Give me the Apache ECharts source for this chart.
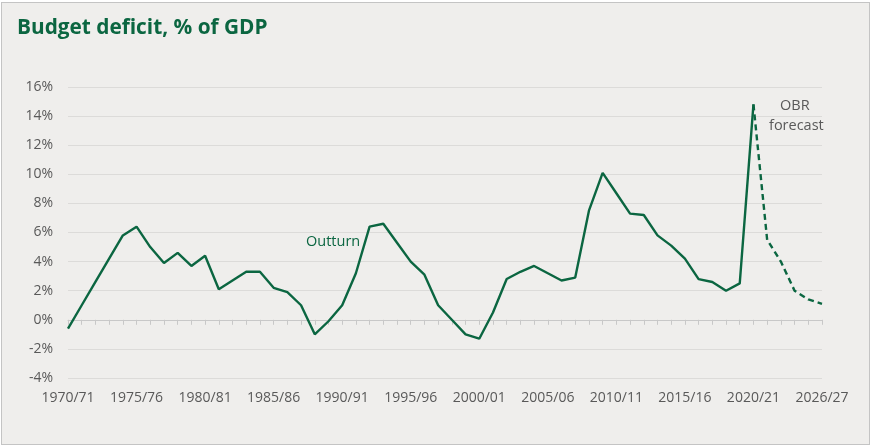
<!DOCTYPE html>
<html>
<head>
<meta charset="utf-8">
<script src="https://cdn.jsdelivr.net/npm/echarts@6/dist/echarts.min.js"></script>
<style>
  html, body { margin: 0; padding: 0; background: #ffffff; }
  #frame {
    position: absolute; left: 1px; top: 2px; width: 867px; height: 441px;
    background: #efeeec; border: 1px solid #c4c4c4;
  }
  #main { position: absolute; left: 0; top: 0; width: 872px; height: 448px; }
</style>
</head>
<body>
<div id="frame"></div>
<div id="main"></div>
<script>
// financial years on the category axis
const years = [
  '1970/71', '1971/72', '1972/73', '1973/74', '1974/75', '1975/76', '1976/77', '1977/78',
  '1978/79', '1979/80', '1980/81', '1981/82', '1982/83', '1983/84', '1984/85', '1985/86',
  '1986/87', '1987/88', '1988/89', '1989/90', '1990/91', '1991/92', '1992/93', '1993/94',
  '1994/95', '1995/96', '1996/97', '1997/98', '1998/99', '1999/00', '2000/01', '2001/02',
  '2002/03', '2003/04', '2004/05', '2005/06', '2006/07', '2007/08', '2008/09', '2009/10',
  '2010/11', '2011/12', '2012/13', '2013/14', '2014/15', '2015/16', '2016/17', '2017/18',
  '2018/19', '2019/20', '2020/21', '2021/22', '2022/23', '2023/24', '2024/25', '2026/27'
];

// deficit, % of GDP (outturn up to 2020/21)
const outturn = [
  -0.6, 1.0, 2.6, 4.2, 5.8, 6.4, 5.0, 3.9, 4.6, 3.7,
  4.4, 2.1, 2.7, 3.3, 3.3, 2.2, 1.9, 1.0, -1.0, -0.1,
  1.0, 3.2, 6.4, 6.6, 5.3, 4.0, 3.1, 1.0, 0.0, -1.0,
  -1.3, 0.5, 2.8, 3.3, 3.7, 3.2, 2.7, 2.9, 7.5, 10.1,
  8.7, 7.3, 7.2, 5.8, 5.1, 4.2, 2.8, 2.6, 2.0, 2.5,
  14.8
];

// OBR forecast, starting from the last outturn year
const forecast = [14.8, 5.5, 4.0, 2.0, 1.4, 1.1];

const yTicks = [-4, 16, 2]; // min, max, step

const green = '#0b6641';
const grey = '#595959';

const outturnData = years.map((y, i) => (i < outturn.length ? outturn[i] : null));
const forecastData = years.map((y, i) => {
  const k = i - (outturn.length - 1);
  return k >= 0 && k < forecast.length ? forecast[k] : null;
});

const chart = echarts.init(document.getElementById('main'));

const option = {
  backgroundColor: 'transparent',
  animation: false,
  textStyle: { fontFamily: 'Open Sans' },
  grid: { left: 68, right: 50, top: 87, bottom: 70 },
  graphic: [
    {
      type: 'text', left: 17, top: 18,
      style: { text: 'Budget deficit, % of GDP', fill: green, font: 'bold 20.8px "Open Sans"' }
    },
    {
      type: 'text', left: 306, top: 234,
      style: { text: 'Outturn', fill: green, font: '14.5px "Open Sans"' }
    },
    {
      type: 'text', left: 780, top: 98,
      style: { text: 'OBR', fill: grey, font: '14.5px "Open Sans"' }
    },
    {
      type: 'text', left: 769, top: 118,
      style: { text: 'forecast', fill: grey, font: '14.5px "Open Sans"' }
    }
  ],
  xAxis: [
    {
      type: 'category',
      data: years,
      boundaryGap: false,
      position: 'bottom',
      axisLine: { show: false, onZero: false },
      axisTick: { show: false },
      axisLabel: { interval: 4, color: grey, fontSize: 14, margin: 13 },
      splitLine: { show: false }
    },
    {
      type: 'category',
      data: years,
      boundaryGap: false,
      position: 'bottom',
      axisLine: { show: true, onZero: true, lineStyle: { color: '#c8c8c8', width: 1 } },
      axisTick: { show: true, interval: 0, length: 5, lineStyle: { color: '#c8c8c8' } },
      axisLabel: { show: false },
      splitLine: { show: false }
    }
  ],
  yAxis: {
    type: 'value',
    min: yTicks[0],
    max: yTicks[1],
    interval: yTicks[2],
    axisLine: { show: false },
    axisTick: { show: false },
    axisLabel: { color: grey, fontSize: 14, margin: 15, formatter: '{value}%' },
    splitLine: { lineStyle: { color: '#dcdbd9', width: 1 } }
  },
  series: [
    {
      name: 'Outturn',
      type: 'line',
      data: outturnData,
      symbol: 'none',
      lineStyle: { color: green, width: 2.4 },
      z: 3
    },
    {
      name: 'OBR forecast',
      type: 'line',
      data: forecastData,
      symbol: 'none',
      lineStyle: { color: green, width: 2.4, type: [6, 4] },
      z: 3
    }
  ]
};

chart.setOption(option);
</script>
</body>
</html>
